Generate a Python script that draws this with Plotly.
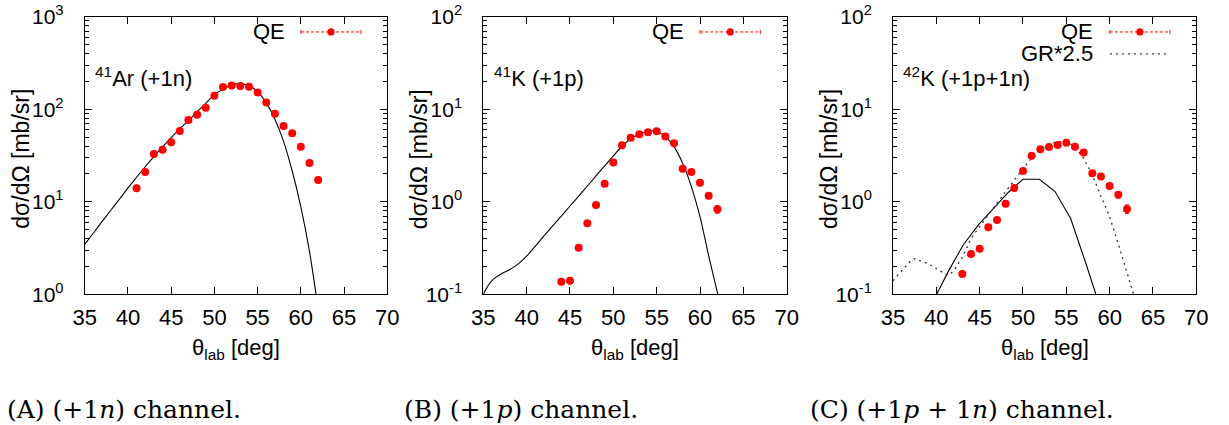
import plotly.graph_objects as go

# ---------------- data ----------------
# Panel A: 41Ar (+1n)
qe_a_x = list(range(41, 63))
qe_a_y = [14.0, 21.0, 32.8, 36.5, 43.9, 58.2, 76.5, 87.3, 104, 140, 174, 181, 178, 175,
          152, 118, 89.5, 65.9, 55.0, 39.4, 26.2, 17.2]
qe_a_err = [0.6, 0.8, 1.1, 1.2, 1.3, 1.6, 2.0, 2.2, 2.5, 3.0, 3.5, 3.6, 3.5, 3.5,
            3.2, 2.8, 2.3, 1.9, 1.7, 1.4, 1.1, 0.9]
th_a_x = list(range(35, 63))
th_a_y = [3.47, 4.6, 6.1, 8.05, 10.6, 14.1, 18.4, 23.9, 30.7, 39.1, 49.4, 61.5, 75.5, 93.5,
          116, 144, 165, 183, 189, 179, 155, 117, 78, 45, 21.5, 8.8, 2.9, 0.7]

# Panel B: 41K (+1p)
qe_b_x = list(range(44, 63))
qe_b_y = [0.137, 0.140, 0.319, 0.586, 0.923, 1.57, 2.65, 4.08, 4.93, 5.37, 5.64, 5.78,
          5.06, 4.28, 2.28, 2.10, 1.61, 1.16, 0.83]
qe_b_err = [0.01, 0.01, 0.015, 0.02, 0.03, 0.04, 0.06, 0.08, 0.09, 0.1, 0.1, 0.1,
            0.1, 0.09, 0.07, 0.07, 0.07, 0.08, 0.08]
th_b_x = [35, 35.3, 35.7, 36.2, 37, 38, 39, 40, 41, 42, 43, 44, 45, 46, 47, 48, 49, 50, 51,
          52, 53, 54, 55, 56, 57, 58, 59, 60, 61, 62, 63]
th_b_y = [0.1, 0.113, 0.13, 0.147, 0.165, 0.184, 0.212, 0.258, 0.331, 0.427, 0.55, 0.70,
          0.90, 1.15, 1.48, 1.9, 2.44, 3.13, 3.98, 4.79, 5.37, 5.82, 5.75, 5.06, 3.94, 2.6,
          1.46, 0.69, 0.26, 0.105, 0.04]

# Panel C: 42K (+1p+1n)
qe_c_x = list(range(43, 63))
qe_c_y = [0.166, 0.273, 0.311, 0.53, 0.635, 0.953, 1.41, 2.15, 3.15, 3.70, 3.91, 4.11,
          4.33, 3.94, 3.40, 2.03, 1.87, 1.48, 1.19, 0.835]
qe_c_err = [0.01, 0.015, 0.015, 0.025, 0.03, 0.04, 0.05, 0.07, 0.09, 0.1, 0.1, 0.1,
            0.1, 0.1, 0.1, 0.07, 0.07, 0.07, 0.09, 0.09]
th_c_x = [39.6, 41.4, 43.1, 44.9, 46.6, 48.3, 50.0, 51.9, 53.7, 55.5, 57.3, 59.1]
th_c_y = [0.083, 0.178, 0.341, 0.57, 0.85, 1.26, 1.75, 1.75, 1.29, 0.66, 0.21, 0.063]
gr_c_x = [35, 36, 37, 37.5, 38, 39, 40, 41, 41.5, 42, 43, 44, 45, 46, 47, 48, 49, 50,
          51, 52, 53, 54, 55, 56, 57, 58, 59, 60, 61, 62, 63]
gr_c_y = [0.14, 0.18, 0.229, 0.243, 0.234, 0.215, 0.19, 0.166, 0.162, 0.18, 0.25, 0.40,
          0.54, 0.72, 0.98, 1.32, 1.74, 2.29, 2.95, 3.63, 4.17, 4.47, 4.47, 3.9, 2.95,
          1.95, 1.15, 0.69, 0.35, 0.178, 0.085]

x_ticks = [35, 40, 45, 50, 55, 60, 65, 70]
panel_labels = ["<sup>41</sup>Ar (+1n)", "<sup>41</sup>K (+1p)", "<sup>42</sup>K (+1p+1n)"]
captions = ["(A) (+1<i>n</i>) channel.", "(B) (+1<i>p</i>) channel.",
            "(C) (+1<i>p</i> + 1<i>n</i>) channel."]

# ---------------- style ----------------
W, H = 1229, 425
FONT = "Liberation Sans"
SERIF = "DejaVu Serif"
RED = "#ff0000"
px_left = [84.7, 483.3, 893.0]
px_right = [387.3, 786.7, 1196.3]
y_top, y_bot = 16.7, 294.3
caption_x = [5, 402, 808]
FS = 22

fig = go.Figure()


def add_qe(x, y, err, n):
    fig.add_trace(go.Scatter(
        x=x, y=y, mode="markers", xaxis=f"x{n}", yaxis=f"y{n}",
        marker=dict(color=RED, size=8),
        error_y=dict(type="data", array=err, visible=True, color=RED, thickness=1, width=2),
        showlegend=False, hoverinfo="skip"))


def add_line(x, y, n, dash="solid", shape="linear", color="black", width=1.1):
    fig.add_trace(go.Scatter(
        x=x, y=y, mode="lines", xaxis=f"x{n}", yaxis=f"y{n}",
        line=dict(color=color, width=width, dash=dash, shape=shape, smoothing=0.8),
        showlegend=False, hoverinfo="skip"))


add_line(th_a_x, th_a_y, "", shape="spline")
add_qe(qe_a_x, qe_a_y, qe_a_err, "")
add_line(th_b_x, th_b_y, "2", shape="spline")
add_qe(qe_b_x, qe_b_y, qe_b_err, "2")
add_line(th_c_x, th_c_y, "3")
add_line(gr_c_x, gr_c_y, "3", dash="2px,4px", color="#333333", width=1.3)
add_qe(qe_c_x, qe_c_y, qe_c_err, "3")

layout = dict(width=W, height=H, autosize=False, margin=dict(l=0, r=0, t=0, b=0, pad=0),
              paper_bgcolor="white", plot_bgcolor="white", showlegend=False)

yranges = [[0, 3], [-1, 2], [-1, 2]]
ytickvals = [[1, 10, 100, 1000], [0.1, 1, 10, 100], [0.1, 1, 10, 100]]
ytexts = [["10<sup>0</sup>", "10<sup>1</sup>", "10<sup>2</sup>", "10<sup>3</sup>"],
          ["10<sup>-1</sup>", "10<sup>0</sup>", "10<sup>1</sup>", "10<sup>2</sup>"],
          ["10<sup>-1</sup>", "10<sup>0</sup>", "10<sup>1</sup>", "10<sup>2</sup>"]]

annotations = []
shapes = []
ydom = [1 - y_bot / H, 1 - y_top / H]
for i in range(3):
    s = "" if i == 0 else str(i + 1)
    xdom = [px_left[i] / W, px_right[i] / W]
    minor_vals = []
    lo = yranges[i][0]
    for d in range(lo, lo + 3):
        for m in range(2, 10):
            minor_vals.append(m * 10 ** d)
    layout[f"xaxis{s}"] = dict(
        domain=xdom, anchor=f"y{s}", range=[35, 70], tickmode="array",
        tickvals=x_ticks, ticktext=[str(v) for v in x_ticks], automargin=False,
        ticks="inside", ticklen=7, tickwidth=1, tickcolor="black",
        showline=True, linecolor="black", linewidth=1, mirror="ticks",
        showgrid=False, zeroline=False, ticklabelstandoff=3,
        tickfont=dict(family=FONT, size=FS, color="black"))
    layout[f"yaxis{s}"] = dict(
        domain=ydom, anchor=f"x{s}", type="log", range=yranges[i], tickmode="array",
        tickvals=ytickvals[i], ticktext=ytexts[i], automargin=False,
        ticks="inside", ticklen=7, tickwidth=1, tickcolor="black",
        showline=True, linecolor="black", linewidth=1, mirror="ticks",
        showgrid=False, zeroline=False, ticklabelstandoff=16,
        minor=dict(tickmode="array", tickvals=minor_vals, ticks="inside", ticklen=4,
                   tickcolor="black", showgrid=False),
        tickfont=dict(family=FONT, size=21, color="black"))

    xr = f"x{s} domain"
    yr = f"y{s} domain"
    # y title
    annotations.append(dict(
        text="dσ/dΩ [mb/sr]", textangle=-90, xref="paper", yref="paper",
        x=(px_left[i] - 64) / W, y=1 - 159 / H, xanchor="center", yanchor="middle",
        showarrow=False, font=dict(family=FONT, size=23, color="black")))
    # x title
    annotations.append(dict(
        text="θ<sub>lab</sub> [deg]", xref="paper", yref="paper",
        x=(px_left[i] + px_right[i]) / 2 / W, y=1 - 349 / H, xanchor="center",
        yanchor="middle", showarrow=False, font=dict(family=FONT, size=FS, color="black")))
    # panel label
    annotations.append(dict(
        text=panel_labels[i], xref=xr, yref=yr, x=0.028, y=0.783, xanchor="left",
        yanchor="middle", showarrow=False, font=dict(family=FONT, size=FS, color="black")))
    # legend QE
    annotations.append(dict(
        text="QE", xref=xr, yref=yr, x=0.667, y=0.945, xanchor="right", yanchor="middle",
        showarrow=False, font=dict(family=FONT, size=FS, color="black")))
    shapes.append(dict(type="line", xref=xr, yref=yr, x0=0.715, x1=0.913, y0=0.945,
                       y1=0.945, line=dict(color=RED, width=1, dash="3px,2px")))
    cap = 2.0 / (y_bot - y_top)
    for cx in (0.715, 0.913):
        shapes.append(dict(type="line", xref=xr, yref=yr, x0=cx, x1=cx, y0=0.945 - cap,
                           y1=0.945 + cap, line=dict(color=RED, width=1)))
    rx, ry = 3.6 / (px_right[i] - px_left[i]), 3.6 / (y_bot - y_top)
    shapes.append(dict(type="circle", xref=xr, yref=yr, x0=0.814 - rx, x1=0.814 + rx,
                       y0=0.945 - ry, y1=0.945 + ry, fillcolor=RED, line=dict(width=0)))
    # caption
    annotations.append(dict(
        text=captions[i], xref="paper", yref="paper", x=caption_x[i] / W, y=1 - 409 / H,
        xanchor="left", yanchor="middle", showarrow=False,
        font=dict(family=SERIF, size=25, color="black")))

# GR*2.5 legend entry (panel C)
annotations.append(dict(
    text="GR*2.5", xref="x3 domain", yref="y3 domain", x=0.667, y=0.866, xanchor="right",
    yanchor="middle", showarrow=False, font=dict(family=FONT, size=FS, color="black")))
shapes.append(dict(type="line", xref="x3 domain", yref="y3 domain", x0=0.715, x1=0.913,
                   y0=0.866, y1=0.866, line=dict(color="#333333", width=1.3, dash="2px,4px")))

layout["annotations"] = annotations
layout["shapes"] = shapes
fig.update_layout(**layout)
fig.write_html("out.html", config={"displayModeBar": False},
               post_script="document.body.style.margin='0';document.body.style.overflow='hidden';")
